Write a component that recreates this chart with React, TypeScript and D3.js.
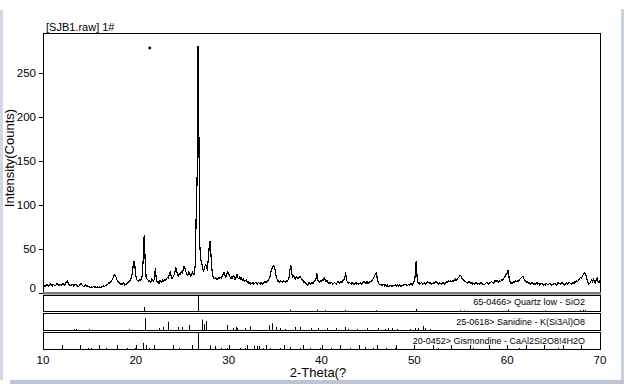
import React from "react";
import * as d3 from "d3";

const W = 624;
const H = 384;

const titleText = "[SJB1.raw] 1#";
const xLabel = "2-Theta(?";
const yLabel = "Intensity(Counts)";
const xTickValues = [10, 20, 30, 40, 50, 60, 70];
const yTickValues = [0, 50, 100, 150, 200, 250];

// scan: 2-theta from 10 to 70 in steps of 0.1
const scanStart = 10;
const scanStep = 0.1;
const intensity = [
  8, 9, 7, 8, 10, 9, 8, 9, 11, 9,
  8, 10, 9, 8, 9, 11, 10, 8, 9, 10,
  9, 11, 10, 9, 10, 12, 14, 12, 10, 9,
  8, 9, 10, 8, 9, 10, 9, 8, 7, 8,
  10, 11, 9, 8, 7, 8, 9, 7, 8, 7,
  7, 6, 7, 6, 7, 7, 6, 7, 6, 7,
  6, 7, 6, 7, 7, 8, 7, 8, 9, 10,
  10, 12, 11, 13, 14, 16, 18, 21, 20, 17,
  14, 13, 12, 10, 11, 9, 10, 12, 9, 10,
  10, 11, 12, 13, 15, 17, 22, 30, 36, 30,
  19, 15, 14, 13, 15, 14, 16, 20, 40, 65,
  38, 18, 16, 15, 13, 14, 12, 16, 15, 13,
  16, 28, 16, 12, 13, 11, 14, 13, 12, 15,
  13, 15, 14, 16, 18, 17, 21, 24, 19, 16,
  18, 20, 23, 29, 25, 20, 19, 22, 21, 24,
  22, 26, 30, 28, 24, 21, 20, 24, 22, 19,
  20, 24, 22, 21, 32, 87, 130, 280, 172, 52,
  38, 34, 28, 24, 29, 32, 30, 26, 38, 52,
  59, 42, 26, 19, 17, 16, 17, 15, 16, 17,
  16, 18, 17, 19, 21, 23, 20, 18, 22, 24,
  22, 19, 17, 18, 16, 20, 19, 15, 18, 21,
  17, 16, 19, 15, 17, 14, 16, 13, 14, 15,
  12, 13, 11, 12, 10, 11, 12, 10, 11, 12,
  11, 10, 12, 11, 10, 12, 11, 10, 12, 13,
  12, 13, 14, 15, 17, 21, 26, 29, 31, 30,
  26, 20, 16, 13, 14, 12, 14, 13, 12, 14,
  13, 12, 14, 13, 15, 17, 26, 31, 22, 18,
  20, 17, 16, 19, 17, 16, 18, 19, 17, 15,
  14, 12, 13, 11, 10, 9, 11, 12, 10, 11,
  12, 11, 13, 14, 16, 22, 15, 13, 12, 14,
  13, 15, 14, 18, 15, 13, 14, 12, 11, 12,
  11, 12, 10, 11, 12, 11, 10, 12, 13, 11,
  12, 13, 12, 14, 15, 17, 23, 15, 12, 11,
  12, 11, 10, 12, 11, 10, 11, 12, 10, 11,
  10, 11, 12, 10, 11, 12, 13, 12, 11, 13,
  11, 12, 13, 13, 14, 15, 17, 19, 21, 23,
  17, 12, 10, 9, 10, 8, 9, 10, 8, 9,
  8, 9, 7, 8, 9, 8, 7, 9, 8, 9,
  9, 8, 10, 8, 9, 8, 7, 9, 8, 10,
  9, 10, 8, 9, 10, 9, 11, 10, 9, 12,
  13, 20, 36, 18, 11, 12, 10, 11, 12, 10,
  11, 12, 10, 11, 13, 12, 11, 12, 10, 11,
  11, 12, 11, 13, 12, 11, 10, 12, 11, 10,
  11, 12, 11, 10, 12, 13, 12, 14, 13, 14,
  13, 14, 13, 15, 16, 14, 15, 17, 18, 20,
  20, 17, 16, 15, 14, 13, 12, 11, 12, 13,
  12, 11, 12, 10, 11, 10, 12, 11, 10, 11,
  10, 11, 12, 11, 10, 9, 10, 11, 12, 11,
  10, 11, 12, 13, 12, 11, 12, 14, 13, 14,
  13, 12, 14, 13, 15, 14, 16, 18, 19, 22,
  22, 26, 18, 13, 11, 12, 11, 13, 12, 14,
  13, 14, 13, 15, 16, 17, 18, 19, 16, 14,
  13, 12, 13, 11, 12, 10, 11, 12, 10, 11,
  10, 11, 12, 10, 11, 9, 10, 11, 10, 9,
  10, 9, 11, 10, 9, 10, 11, 10, 9, 10,
  10, 11, 10, 9, 10, 12, 11, 10, 11, 12,
  11, 10, 9, 11, 12, 10, 11, 12, 11, 10,
  11, 12, 11, 13, 12, 14, 13, 15, 16, 18,
  17, 19, 21, 23, 22, 20, 15, 12, 10, 11,
  13, 15, 12, 16, 14, 11, 15, 17, 13, 12,
  14,
];

const markerAngles = [21.5];
const markerCounts = [278];

// phase sticks: [2-theta, relative intensity %]
const quartzSticks: [number, number][] = [
  [20.9, 25], [26.7, 100], [36.6, 8], [39.5, 8], [40.35, 5], [42.5, 7], [45.85, 5],
  [50.2, 14], [54.9, 5], [55.4, 3], [60.05, 9], [64.1, 3], [67.8, 6], [68.2, 7], [68.4, 6],
];
const sanidineSticks: [number, number][] = [
  [13.3, 6], [13.6, 6], [15.0, 6], [19.3, 6], [21.0, 70], [22.5, 12], [22.9, 18], [23.5, 48],
  [24.5, 18], [25.0, 18], [25.7, 30], [27.1, 62], [27.35, 35], [27.6, 52], [29.85, 30],
  [30.5, 12], [30.75, 18], [30.9, 12], [31.75, 12], [32.35, 22], [34.35, 28], [34.65, 40],
  [35.1, 18], [35.5, 12], [36.1, 6], [37.15, 18], [37.7, 18], [38.9, 12], [39.65, 12],
  [40.55, 12], [41.6, 12], [42.5, 18], [42.9, 6], [43.8, 6], [44.9, 12], [46.1, 12],
  [46.8, 6], [47.2, 12], [47.6, 12], [48.1, 6], [49.5, 6], [50.05, 12], [50.4, 12],
  [50.9, 24], [51.15, 12], [51.7, 6],
];
const gismondineSticks: [number, number][] = [
  [14.9, 6], [15.2, 6], [16.8, 6], [19.0, 6], [19.9, 6], [20.8, 36], [21.1, 24], [21.45, 6],
  [24.7, 6], [26.7, 100], [28.55, 18], [29.2, 6], [29.8, 6], [31.2, 6], [31.8, 6],
  [32.7, 18], [33.0, 18], [33.3, 18], [33.7, 6], [34.45, 6], [35.5, 6], [36.6, 12],
  [37.7, 6], [38.8, 6], [39.8, 6], [41.0, 6], [43.1, 6], [44.7, 12], [45.6, 6],
  [47.0, 6], [47.9, 6], [52.6, 6], [56.3, 6], [61.3, 6], [65.5, 6],
];
const phaseNames = [
  "65-0466> Quartz low - SiO2",
  "25-0618> Sanidine - K(Si3Al)O8",
  "20-0452> Gismondine - CaAl2Si2O8!4H2O",
];

const FONT = "'Liberation Sans', Arial, sans-serif";

export default function App() {
  const left = 43;
  const right = 600;
  const top = 33;
  const bottom = 293;

  const x = d3.scaleLinear().domain([10, 70]).range([left, right]);
  const y = d3.scaleLinear().domain([0, 295]).range([bottom, top]);

  const points: [number, number][] = intensity.map((v, i) => [scanStart + i * scanStep, v]);
  const line = d3
    .line<[number, number]>()
    .x((d) => x(d[0]))
    .y((d) => y(d[1]));

  const panels = [
    { y0: 295, y1: 311, sticks: quartzSticks, name: phaseNames[0], ty: 305 },
    { y0: 313, y1: 330, sticks: sanidineSticks, name: phaseNames[1], ty: 324.5 },
    { y0: 332, y1: 349, sticks: gismondineSticks, name: phaseNames[2], ty: 344 },
  ];

  const minorTicks = d3.range(10, 70.01, 2);

  return (
    <svg
      width={W}
      height={H}
      style={{ position: "fixed", left: 0, top: 0, background: "#fff" }}
      fontFamily={FONT}
    >
      <rect x={0} y={0} width={W} height={H} fill="#fff" />
      {/* window chrome */}
      <rect x={0} y={10} width={3} height={370} fill="#cfd8e4" />
      <rect x={621} y={9} width={3} height={372} fill="#c9d2de" />
      <rect x={10} y={380} width={614} height={4} fill="#bcc5d1" />

      {/* title */}
      <text x={46} y={30.5} fontSize={11} fill="#000">
        {titleText}
      </text>

      {/* main frame */}
      <line x1={left} x2={right + 1} y1={top + 0.5} y2={top + 0.5} stroke="#000" />
      <line x1={right + 0.5} x2={right + 0.5} y1={top} y2={bottom} stroke="#000" />
      <line x1={left + 0.5} x2={left + 0.5} y1={top} y2={bottom + 1} stroke="#000" />
      <rect x={left} y={bottom - 1} width={right - left + 1} height={2} fill="#7a7a7a" />
      <rect x={left} y={bottom + 1} width={right - left + 1} height={1} fill="#b4b4b4" />

      {/* y ticks */}
      {yTickValues.map((t) => (
        <g key={t}>
          <line x1={39} x2={43} y1={Math.round(y(t)) + 0.5} y2={Math.round(y(t)) + 0.5} stroke="#000" />
          <text
            x={36}
            y={y(t) + (t === 0 ? -5 : 0)}
            fontSize={11.5}
            textAnchor="end"
            dominantBaseline="central"
            fill="#000"
          >
            {t}
          </text>
        </g>
      ))}
      <text
        transform={`translate(14,158) rotate(-90)`}
        fontSize={13}
        textAnchor="middle"
        fill="#000"
      >
        {yLabel}
      </text>

      {/* data */}
      <path
        d={line(points) || ""}
        fill="none"
        stroke="#000"
        strokeWidth={1.2}
        strokeLinejoin="round"
        shapeRendering="crispEdges"
      />
      {markerAngles.map((a, i) => (
        <circle key={i} cx={x(a)} cy={y(markerCounts[i])} r={1.4} fill="#000" />
      ))}

      {/* phase panels */}
      {panels.map((p, i) => {
        const h = p.y1 - p.y0;
        return (
          <g key={i}>
            <rect
              x={left + 0.5}
              y={p.y0 + 0.5}
              width={right - left}
              height={h}
              fill="#fff"
              stroke="#000"
            />
            {p.sticks.map(([a, r], j) => (
              <line
                key={j}
                x1={Math.round(x(a)) + 0.5}
                x2={Math.round(x(a)) + 0.5}
                y1={p.y1}
                y2={p.y1 - (h * r) / 100}
                stroke="#000"
              />
            ))}
            <text x={585} y={p.ty} fontSize={9} textAnchor="end" fill="#000">
              {p.name}
            </text>
          </g>
        );
      })}

      {/* x axis ticks */}
      {minorTicks.map((t) => (
        <line
          key={t}
          x1={Math.round(x(t)) + 0.5}
          x2={Math.round(x(t)) + 0.5}
          y1={349}
          y2={345}
          stroke="#000"
        />
      ))}
      {xTickValues.map((t) => (
        <text key={t} x={x(t)} y={363.5} fontSize={11.5} textAnchor="middle" fill="#000">
          {t}
        </text>
      ))}
      <text x={318} y={377} fontSize={13} textAnchor="middle" fill="#000">
        {xLabel}
      </text>
    </svg>
  );
}
